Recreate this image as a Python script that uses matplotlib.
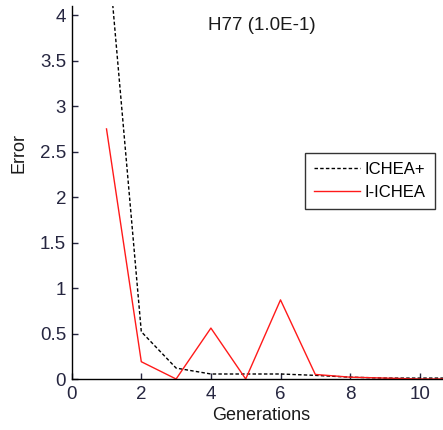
import matplotlib
matplotlib.use("Agg")
import matplotlib.pyplot as plt

plt.rcParams['font.family'] = ['Liberation Sans', 'DejaVu Sans']

generations = [1, 2, 3, 4, 5, 6, 7, 8, 9, 10, 11]
ichea_plus = [4.9, 0.52, 0.12, 0.055, 0.055, 0.055, 0.04, 0.02, 0.01, 0.01, 0.01]
i_ichea = [2.75, 0.19, 0.0, 0.56, 0.0, 0.87, 0.05, 0.02, 0.01, 0.0, 0.0]
xticks = [0, 2, 4, 6, 8, 10]
yticks = [0, 0.5, 1, 1.5, 2, 2.5, 3, 3.5, 4]
ytick_labels = ['0', '0.5', '1', '1.5', '2', '2.5', '3', '3.5', '4']

fig = plt.figure(figsize=(4.43, 4.30), dpi=100)
ax = fig.add_axes([71.7 / 443, 1 - 379 / 430, 1 - 71.7 / 443, (379 - 5.7) / 430])

ax.plot(generations, ichea_plus, color='black', lw=1.0, linestyle=(0, (2.5, 1.6)), label='ICHEA+')
ax.plot(generations, i_ichea, color='#ff1a1a', lw=1.0, label='I-ICHEA')

ax.set_xlim(0, (443 - 71.7) / 34.8)
ax.set_ylim(0, 4.105)
ax.set_xticks(xticks)
ax.set_yticks(yticks)
ax.set_yticklabels(ytick_labels)
for s in ['top', 'right']:
    ax.spines[s].set_visible(False)
for s in ['left', 'bottom']:
    ax.spines[s].set_linewidth(1.0)
ax.tick_params(axis='both', direction='in', length=4, width=1.0, labelsize=13.5, colors='#262640')
ax.tick_params(axis='x', pad=5.0)
ax.tick_params(axis='y', pad=4.0)

fig.text(262 / 443, 1 - 26 / 430, 'H77 (1.0E-1)', ha='center', va='center', fontsize=13.5, color='#1a1a1a')
fig.text(19 / 443, 1 - 153 / 430, 'Error', ha='center', va='center', rotation=90, fontsize=13, color='#1a1a1a')
fig.text(261 / 443, 1 - 416 / 430, 'Generations', ha='center', va='center', fontsize=13, color='#1a1a1a')

leg = ax.legend(loc='upper left', bbox_to_anchor=(305 / 443, 1 - 153 / 430), bbox_transform=fig.transFigure,
                fontsize=12, frameon=True, fancybox=False, shadow=False, handlelength=2.75,
                handletextpad=0.3, labelspacing=0.45, borderpad=0.55, borderaxespad=0.0)
leg.get_frame().set_edgecolor('black')
leg.get_frame().set_linewidth(1.0)

fig.savefig('out.png', dpi=100)
